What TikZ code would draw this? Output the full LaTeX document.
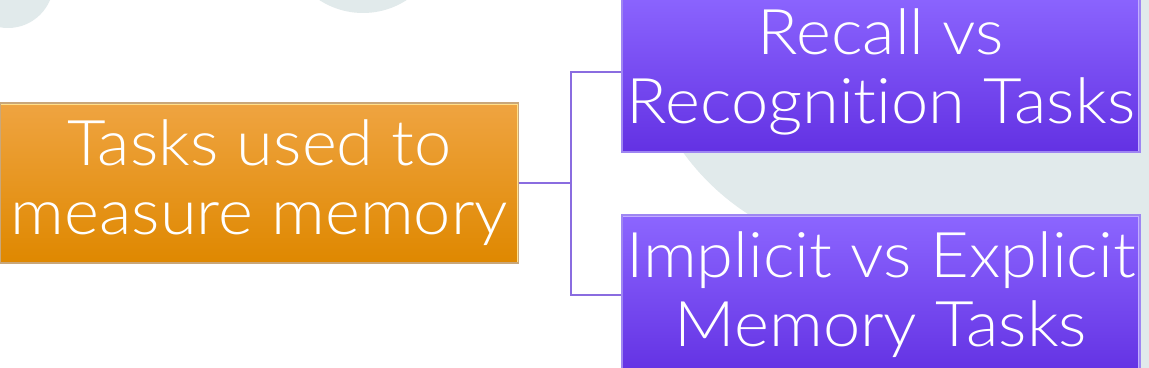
\documentclass[tikz,border=0pt]{standalone}
\usepackage{fontspec}
\setmainfont{Lato Light}[FakeStretch=1.06, RawFeature={-liga;-clig;-calt;-dlig}]
\definecolor{orgtop}{HTML}{EFA441}
\definecolor{orgmid}{HTML}{EF9A05}
\definecolor{orgbot}{HTML}{DF8800}
\definecolor{orgline}{HTML}{C9A77A}
\definecolor{orghi}{HTML}{FFE08A}
\definecolor{purtop}{HTML}{8C66FF}
\definecolor{purbot}{HTML}{6331E3}
\definecolor{purline}{HTML}{9E86F2}
\definecolor{purhi}{HTML}{C2AEFF}
\definecolor{bgcirc}{HTML}{E1EAEB}
\definecolor{linkcol}{HTML}{8A6CE0}
\begin{document}
\begin{tikzpicture}[x=0.5pt,y=-0.5pt,
  box/.style={minimum width=259pt, minimum height=80pt, inner sep=0pt,
    align=center, text=white, font=\fontsize{31.5}{34.5}\selectfont},
  hilite/.style={path picture={\draw[#1, line width=1.8pt]
      (path picture bounding box.north west) -- (path picture bounding box.north east)
      -- (path picture bounding box.south east);}},
  orangebox/.style={box, top color=orgtop, middle color=orgmid, bottom color=orgbot,
    draw=orgline, line width=0.6pt, hilite=orghi},
  purplebox/.style={box, top color=purtop, bottom color=purbot,
    draw=purline, line width=0.6pt, hilite=purhi},
  link/.style={draw=linkcol, line width=1pt}]
\useasboundingbox (0,0) rectangle (1149,368);
\fill[white] (0,0) rectangle (1149,368);
\begin{scope}
  \clip (0,0) rectangle (1149,368);
  \fill[bgcirc] (8,-17.5) circle[radius=22.75pt];
  \fill[bgcirc] (363,-67) circle[radius=40pt];
  \fill[bgcirc] (880,10) circle[radius=121.5pt];
  \fill[bgcirc] (1250,250) circle[radius=165pt];
\end{scope}
\node[orangebox] (task) at (259.5,183) {Tasks used to\\measure memory};
\node[purplebox] (recall) at (881,72) {Recall vs\\Recognition Tasks};
\node[purplebox] (implicit) at (881,295) {Implicit vs Explicit\\Memory Tasks};
\coordinate (j) at (571,183);
\draw[link] (task.east) -- (j);
\draw[link] (j) |- (recall.west);
\draw[link] (j) |- (implicit.west);
\end{tikzpicture}
\end{document}
